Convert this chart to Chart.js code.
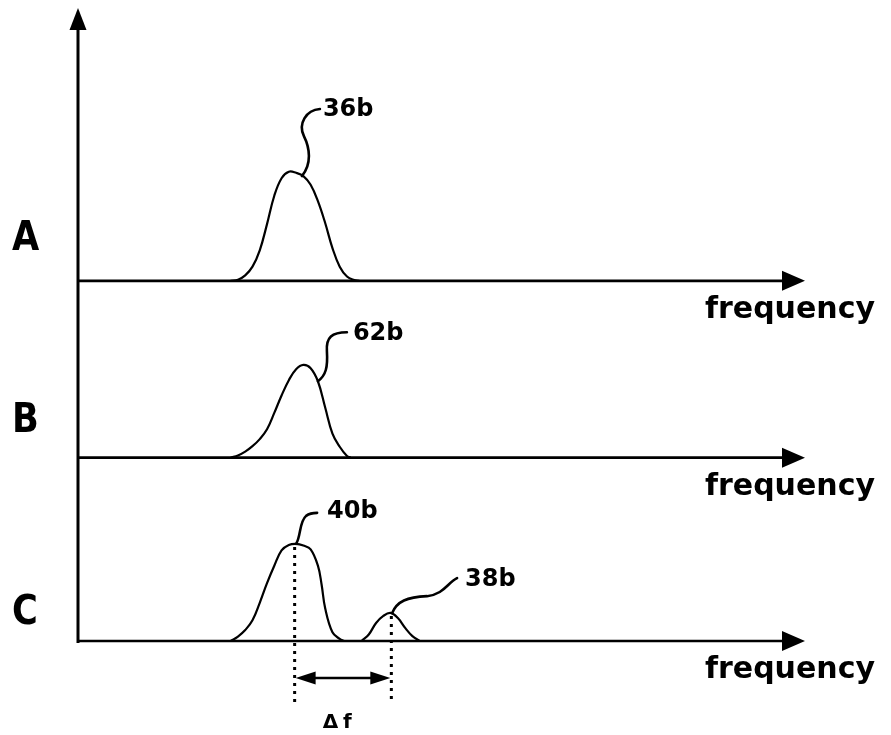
<!DOCTYPE html>
<html>
<head>
<meta charset="utf-8">
<script src="https://cdn.jsdelivr.net/npm/chart.js@4"></script>
<style>
  body { margin: 0; background: #fff; }
  canvas { display: block; }
</style>
</head>
<body>
<canvas id="myChart" width="891" height="735"></canvas>
<script>
// spectra (frequency 0..100, amplitude in arbitrary units)
const freqA = [21, 22, 23, 24, 25, 26, 27, 28, 29, 30, 31, 32, 33, 34, 35, 36, 37, 38, 38.7];
const ampA  = [0, 1, 5, 13, 28, 52, 78, 94, 100, 99, 96, 88, 73, 53, 30, 13, 4, 0.8, 0];

const freqB = [21, 22, 23, 24, 25, 26, 27, 28, 29, 30, 31, 32, 33, 34, 35, 36, 37, 37.5];
const ampB  = [0, 2, 5.5, 10.5, 17, 26, 41, 57, 71, 81, 85, 82, 70, 46, 22, 10, 1.5, 0];

const freqC1 = [21, 22, 23, 24, 25, 26, 27, 28, 29, 30, 31, 32, 33, 33.5, 34, 35, 36, 36.6];
const ampC1  = [0, 4, 10, 19, 35, 53, 69, 83, 88, 89, 87.5, 84, 69, 52, 30, 8, 2, 0];

const freqC2 = [39, 40, 41, 42, 43, 44, 45, 46, 47];
const ampC2  = [0, 6, 16.5, 23, 25.7, 21, 12, 4.5, 0];

const panelNames = ["A", "B", "C"];
const panelMax = [250, 162, 168];
const axisTitle = "frequency";

// callouts: label, panel, frequency and amplitude where the leader touches the curve
const calloutText = ["36b", "62b", "40b", "38b"];
const calloutPanel = ["yA", "yB", "yC", "yC"];
const calloutFreq = [30.8, 33.0, 30.0, 43.2];
const calloutAmp = [96, 70, 89, 25.5];

// the two peaks of C that are compared
const deltaLabel = "Δf";
const deltaFreq = [29.8, 43.1];
const deltaAmp = [88.9, 25.7];

const pts = (f, a) => f.map((v, i) => ({ x: v, y: a[i] }));

const lineStyle = {
    borderColor: "#000",
    borderWidth: 2.2,
    pointRadius: 0,
    fill: false,
    tension: 0.4
};

const arrowHead = (ctx, x, y, dir, len, half) => {
    // dir: 'right', 'left', 'up'
    ctx.beginPath();
    if (dir === "right") {
        ctx.moveTo(x, y); ctx.lineTo(x - len, y - half); ctx.lineTo(x - len, y + half);
    } else if (dir === "left") {
        ctx.moveTo(x, y); ctx.lineTo(x + len, y - half); ctx.lineTo(x + len, y + half);
    } else {
        ctx.moveTo(x, y); ctx.lineTo(x - half, y + len); ctx.lineTo(x + half, y + len);
    }
    ctx.closePath();
    ctx.fill();
};

const wideText = (ctx, text, x, y, sx) => {
    ctx.save();
    ctx.translate(x, y);
    ctx.scale(sx, 1);
    ctx.fillText(text, 0, 0);
    ctx.restore();
};

const figurePlugin = {
    id: "figure",
    beforeDatasetsDraw(chart) {
        const ctx = chart.ctx;
        const xs = chart.scales.x;
        const left = xs.left;
        const tipX = xs.right;
        ctx.save();
        ctx.fillStyle = "#000";
        ctx.strokeStyle = "#000";

        // vertical axis with arrow
        const bottomC = chart.scales.yC.getPixelForValue(0);
        ctx.lineWidth = 3;
        ctx.beginPath();
        ctx.moveTo(left, bottomC + 2);
        ctx.lineTo(left, chart.chartArea.top + 18);
        ctx.stroke();
        arrowHead(ctx, left, chart.chartArea.top, "up", 22, 8.5);

        // three frequency axes
        const labelY = [41, 36, 27];
        ["yA", "yB", "yC"].forEach((id, i) => {
            const y0 = chart.scales[id].getPixelForValue(0);
            ctx.lineWidth = 2.6;
            ctx.beginPath();
            ctx.moveTo(left, y0);
            ctx.lineTo(tipX - 18, y0);
            ctx.stroke();
            arrowHead(ctx, tipX, y0, "right", 23, 10);

            ctx.font = "bold 30px 'DejaVu Sans'";
            ctx.textAlign = "right";
            ctx.textBaseline = "alphabetic";
            ctx.fillText(axisTitle, 875, y0 + 37);

            ctx.font = "bold 40px 'DejaVu Sans'";
            ctx.textAlign = "left";
            ctx.textBaseline = "middle";
            wideText(ctx, panelNames[i], 12, y0 - labelY[i], 0.88);
        });
        ctx.restore();
    },
    afterDatasetsDraw(chart) {
        const ctx = chart.ctx;
        const xs = chart.scales.x;
        ctx.save();
        ctx.fillStyle = "#000";
        ctx.strokeStyle = "#000";
        ctx.lineCap = "round";

        // leader curves and labels
        const leaders = [
            (c, x, y) => { c.moveTo(x, y); c.bezierCurveTo(x + 10, y - 12, x + 8, y - 28, x + 2, y - 40); c.bezierCurveTo(x - 4, y - 52, x + 4, y - 66, x + 18, y - 67); },
            (c, x, y) => { c.moveTo(x, y); c.bezierCurveTo(x + 8, y - 6, x + 10, y - 14, x + 9, y - 30); c.bezierCurveTo(x + 8, y - 44, x + 14, y - 49, x + 29, y - 49); },
            (c, x, y) => { c.moveTo(x, y); c.bezierCurveTo(x + 5, y - 8, x + 3, y - 22, x + 10, y - 28); c.quadraticCurveTo(x + 14, y - 31, x + 21, y - 31); },
            (c, x, y) => { c.moveTo(x, y); c.bezierCurveTo(x + 5, y - 12, x + 15, y - 16, x + 35, y - 17); c.bezierCurveTo(x + 52, y - 19, x + 55, y - 30, x + 65, y - 35); }
        ];
        const labelOff = [[21, -60], [35, -41], [31, -26], [73, -27]];
        calloutText.forEach((t, i) => {
            const x = xs.getPixelForValue(calloutFreq[i]);
            const y = chart.scales[calloutPanel[i]].getPixelForValue(calloutAmp[i]);
            ctx.lineWidth = 2.6;
            ctx.beginPath();
            leaders[i](ctx, x, y);
            ctx.stroke();
            ctx.font = "bold 24px 'DejaVu Sans'";
            ctx.textAlign = "left";
            ctx.textBaseline = "alphabetic";
            ctx.fillText(t, x + labelOff[i][0], y + labelOff[i][1]);
        });

        // dotted markers at the two peaks of C
        const yC = chart.scales.yC;
        const base = yC.getPixelForValue(0);
        const dx = deltaFreq.map(f => xs.getPixelForValue(f));
        const ends = [66, 62];
        ctx.lineCap = "butt";
        ctx.lineWidth = 3;
        ctx.setLineDash([3, 5]);
        dx.forEach((x, i) => {
            ctx.beginPath();
            ctx.moveTo(x, yC.getPixelForValue(deltaAmp[i]) + 3);
            ctx.lineTo(x, base + ends[i]);
            ctx.stroke();
        });
        ctx.setLineDash([]);

        // delta f double arrow
        const ay = base + 37;
        ctx.lineWidth = 2.6;
        ctx.beginPath();
        ctx.moveTo(dx[0] + 15, ay);
        ctx.lineTo(dx[1] - 15, ay);
        ctx.stroke();
        arrowHead(ctx, dx[0] + 1, ay, "left", 20, 6.5);
        arrowHead(ctx, dx[1] - 1, ay, "right", 20, 6.5);

        ctx.font = "bold 20px 'DejaVu Sans'";
        ctx.letterSpacing = "5px";
        ctx.textAlign = "left";
        ctx.textBaseline = "alphabetic";
        ctx.fillText(deltaLabel, dx[0] + 28, base + 87);
        ctx.restore();
    }
};

const ctx = document.getElementById("myChart");

// stacked left axes are laid out in reverse order, so the bottom panel comes first
new Chart(ctx, {
    type: "line",
    data: {
        datasets: [
            { label: "36b", data: pts(freqA, ampA), yAxisID: "yA", ...lineStyle },
            { label: "62b", data: pts(freqB, ampB), yAxisID: "yB", ...lineStyle },
            { label: "40b", data: pts(freqC1, ampC1), yAxisID: "yC", ...lineStyle },
            { label: "38b", data: pts(freqC2, ampC2), yAxisID: "yC", ...lineStyle }
        ]
    },
    options: {
        responsive: false,
        animation: false,
        layout: { padding: { left: 78, right: 86, top: 8, bottom: 94 } },
        plugins: { legend: { display: false }, tooltip: { enabled: false } },
        scales: {
            x: { type: "linear", min: 0, max: 100, display: false },
            yC: { type: "linear", position: "left", stack: "panels", stackWeight: panelMax[2], min: 0, max: panelMax[2], display: false },
            yB: { type: "linear", position: "left", stack: "panels", stackWeight: panelMax[1], min: 0, max: panelMax[1], display: false },
            yA: { type: "linear", position: "left", stack: "panels", stackWeight: panelMax[0], min: 0, max: panelMax[0], display: false }
        }
    },
    plugins: [figurePlugin]
});
</script>
</body>
</html>
